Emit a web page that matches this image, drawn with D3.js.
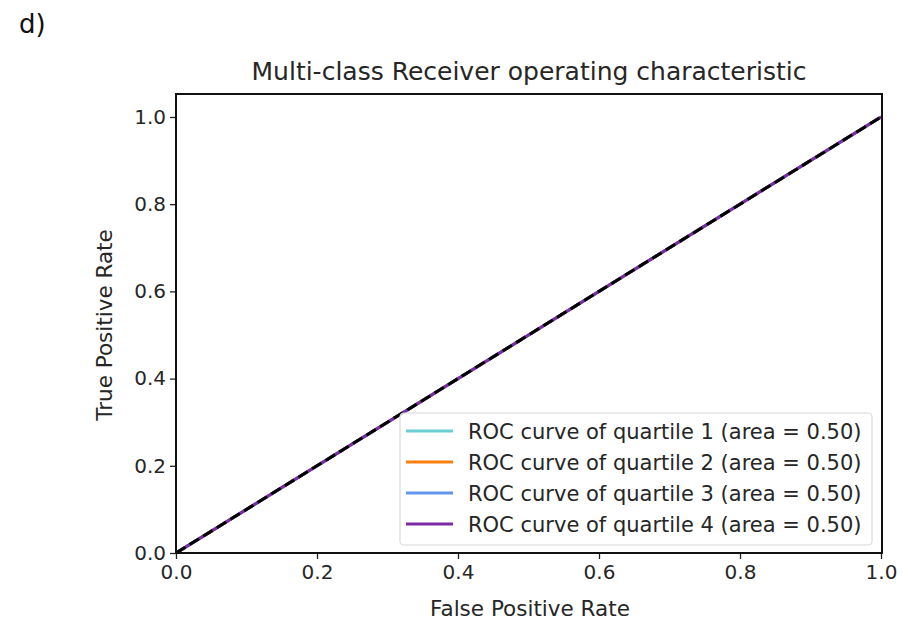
<!DOCTYPE html>
<html>
<head>
<meta charset="utf-8">
<script src="https://cdn.jsdelivr.net/npm/d3@7"></script>
<style>
  html, body { margin: 0; padding: 0; background: #fff; }
  svg { display: block; font-family: "DejaVu Sans", sans-serif; }
</style>
</head>
<body>
<svg id="chart" width="903" height="620"></svg>
<script>
// ROC curves for the four quartile classes (all fall on the chance diagonal)
const fprValues = [0.0, 1.0];
const tprQ1 = [0.0, 1.0];
const tprQ2 = [0.0, 1.0];
const tprQ3 = [0.0, 1.0];
const tprQ4 = [0.0, 1.0];
const seriesNames = ["quartile 1", "quartile 2", "quartile 3", "quartile 4"];
const seriesAreas = [0.50, 0.50, 0.50, 0.50];
const seriesColors = ["#6dcfd6", "#ff7f0e", "#6495ed", "#7d2aa8"];
const chanceX = [0, 1];
const chanceY = [0, 1];
const xTicks = [0.0, 0.2, 0.4, 0.6, 0.8, 1.0];
const yTicks = [0.0, 0.2, 0.4, 0.6, 0.8, 1.0];

const svg = d3.select("#chart");
const plot = { left: 176, right: 882, top: 94, bottom: 553 };

const x = d3.scaleLinear().domain([0, 1]).range([plot.left, plot.right - 1]);
const y = d3.scaleLinear().domain([0, 1.0527]).range([plot.bottom, plot.top]);

const textColor = "#262626";

// panel letter
svg.append("text").attr("x", 19).attr("y", 33)
  .attr("font-size", 26).attr("fill", "#111").text("d)");

// title
svg.append("text").attr("x", 529).attr("y", 80)
  .attr("text-anchor", "middle").attr("font-size", 25).attr("fill", textColor)
  .text("Multi-class Receiver operating characteristic");

// curves
const tprs = [tprQ1, tprQ2, tprQ3, tprQ4];
const line = d3.line().x(d => x(d[0])).y(d => y(d[1]));
svg.append("clipPath").attr("id", "clip").append("rect")
  .attr("x", plot.left).attr("y", plot.top)
  .attr("width", plot.right - plot.left).attr("height", plot.bottom - plot.top);
const g = svg.append("g").attr("clip-path", "url(#clip)");
tprs.forEach((t, i) => {
  g.append("path")
    .datum(fprValues.map((f, j) => [f, t[j]]))
    .attr("d", line).attr("fill", "none")
    .attr("stroke", seriesColors[i]).attr("stroke-width", 3);
});
g.append("path")
  .datum(chanceX.map((f, j) => [f, chanceY[j]]))
  .attr("d", line).attr("fill", "none")
  .attr("stroke", "#000").attr("stroke-width", 3)
  .attr("stroke-dasharray", "11,5");

// axes
const xAxis = d3.axisBottom(x).tickValues(xTicks).tickFormat(d3.format(".1f"))
  .tickSize(6).tickPadding(6);
const yAxis = d3.axisLeft(y).tickValues(yTicks).tickFormat(d3.format(".1f"))
  .tickSize(6).tickPadding(4);

const gx = svg.append("g").attr("transform", `translate(0,${plot.bottom})`).call(xAxis);
const gy = svg.append("g").attr("transform", `translate(${plot.left},0)`).call(yAxis);
[gx, gy].forEach(a => {
  a.select(".domain").remove();
  a.selectAll("line").attr("stroke", "#222").attr("stroke-width", 1.3);
  a.selectAll("text").attr("font-size", 20).attr("fill", textColor)
    .attr("font-family", "DejaVu Sans, sans-serif");
});

// frame
svg.append("rect").attr("x", plot.left).attr("y", plot.top)
  .attr("width", plot.right - plot.left).attr("height", plot.bottom - plot.top)
  .attr("fill", "none").attr("stroke", "#111").attr("stroke-width", 2);

// axis labels
svg.append("text").attr("x", 530).attr("y", 616)
  .attr("text-anchor", "middle").attr("font-size", 21.5).attr("fill", textColor)
  .text("False Positive Rate");
svg.append("text")
  .attr("transform", `translate(112,325) rotate(-90)`)
  .attr("text-anchor", "middle").attr("font-size", 21.5).attr("fill", textColor)
  .text("True Positive Rate");

// legend
const leg = svg.append("g");
leg.append("rect").attr("x", 400).attr("y", 413).attr("width", 472).attr("height", 132)
  .attr("rx", 4).attr("fill", "rgba(255,255,255,0.85)")
  .attr("stroke", "#d8d8d8").attr("stroke-width", 1.2);
seriesNames.forEach((name, i) => {
  const ly = 431 + i * 31;
  leg.append("line").attr("x1", 406).attr("x2", 453).attr("y1", ly).attr("y2", ly)
    .attr("stroke", seriesColors[i]).attr("stroke-width", 3);
  leg.append("text").attr("x", 468).attr("y", ly + 8)
    .attr("font-size", 21).attr("fill", textColor)
    .text(`ROC curve of ${name} (area = ${seriesAreas[i].toFixed(2)})`);
});
</script>
</body>
</html>
